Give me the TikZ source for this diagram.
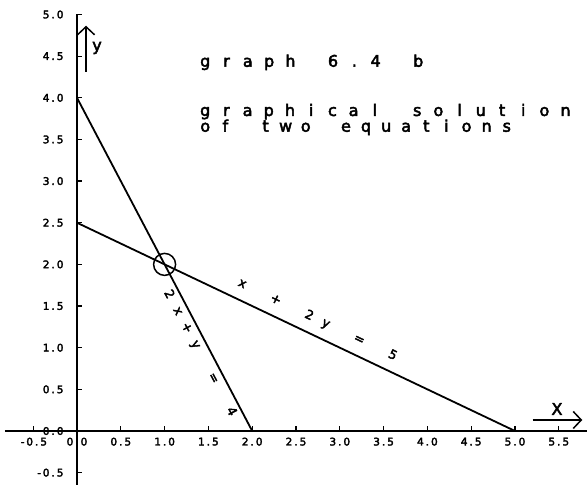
\documentclass[tikz,border=0pt]{standalone}
\usepackage{fontspec}
\setmainfont{DejaVu Sans}
\newfontfamily\plotfont[FakeBold=3]{DejaVu Sans}
\newfontfamily\tickfont[FakeBold=3]{DejaVu Sans}
\usetikzlibrary{arrows.meta}
\ExplSyntaxOn
\NewDocumentCommand\slots{mm}{\tl_set:Nx \l_tmpa_tl {#2}\tl_map_inline:Nn \l_tmpa_tl {\makebox[#1][c]{##1}}}
\ExplSyntaxOff
\begin{document}
\begin{tikzpicture}[x=87.6pt,y=83.3pt,
  axis/.style={line width=1.4pt},
  graphline/.style={line width=1.8pt},
  tickmark/.style={line width=1.2pt},
  ticklab/.style={font=\tickfont\fontsize{10.5}{11}\selectfont, inner sep=0pt},
  titletext/.style={font=\plotfont\fontsize{16}{18}\selectfont, inner sep=0pt, anchor=base west},
  eqlab/.style={font=\plotfont\fontsize{12.5}{13}\selectfont, inner sep=0pt},
  axlab/.style={font=\plotfont\fontsize{16}{17}\selectfont, inner sep=0pt},
  axarrow/.style={line width=1.5pt, -{Straight Barb[length=8pt,width=17pt,line width=1.5pt]}}]
\useasboundingbox (-0.879,-0.648) rectangle (5.822,5.174);
% axes
\coordinate (xl) at (-0.822,0);
\coordinate (xr) at (5.822,0);
\coordinate (yb) at (0,-0.648);
\coordinate (yt) at (0,5);
\draw[axis] (xl) -- (xr);
\draw[axis] (yb) -- (yt);
% ticks
\foreach \v in {-0.5,0.5,1,1.5,2,2.5,3,3.5,4,4.5,5,5.5}
  \draw[tickmark] (\v,0) -- ++(0,4.5pt);
\foreach \v in {-0.5,0.5,1,1.5,2,2.5,3,3.5,4,4.5,5}
  \draw[tickmark] (0,\v) -- ++(4.5pt,0);
% tick labels
\foreach \v/\t [count=\i] in {-0.5/-0.5,0/0.0,0.5/0.5,1/1.0,1.5/1.5,2/2.0,2.5/2.5,3/3.0,3.5/3.5,4/4.0,4.5/4.5,5/5.0,5.5/5.5}
  \node[ticklab] (xt\i) at (\v,-0.128) {\slots{7pt}{\t}};
\foreach \v/\t [count=\i] in {-0.5/-0.5,0/0.0,0.5/0.5,1/1.0,1.5/1.5,2/2.0,2.5/2.5,3/3.0,3.5/3.5,4/4.0,4.5/4.5,5/5.0}
  \node[ticklab, anchor=east] (yt\i) at (-0.15,\v) {\slots{7pt}{\t}};
% axis arrows
\coordinate (ya0) at (0.103,4.31);
\coordinate (ya1) at (0.103,4.865);
\draw[axarrow] (ya0) -- (ya1);
\node[axlab] (ylab) at (0.228,4.598) {y};
\coordinate (xa0) at (5.202,0.132);
\coordinate (xa1) at (5.768,0.132);
\draw[axarrow] (xa0) -- (xa1);
\node[axlab] (xlab) at (5.479,0.264) {X};
% graph lines
\coordinate (p1) at (0,4);
\coordinate (p2) at (2,0);
\coordinate (q1) at (0,2.5);
\coordinate (q2) at (5,0);
\draw[graphline] (p1) -- (p2);
\draw[graphline] (q1) -- (q2);
\node[circle, draw, line width=1.5pt, minimum size=22pt, inner sep=0pt] (sol) at (1,2) {};
% equation labels
\node[eqlab, rotate=-62] (eqa) at (1.403,0.935) {\slots{18.96pt}{2x+y{}={}4}};
\node[eqlab, rotate=-25.5] (eqb) at (2.744,1.335) {\slots{18.5pt}{x{}+{}2y{}={}5}};
% title
\node[titletext] (t1) at (1.340,4.373) {\slots{21.3pt}{graph{}6.4{}b}};
\node[titletext] (t2) at (1.340,3.782) {\slots{21.2pt}{graphical{}solution}};
\node[titletext] (t3) at (1.347,3.593) {\slots{20.1pt}{of{}two{}equations}};
\end{tikzpicture}
\end{document}
